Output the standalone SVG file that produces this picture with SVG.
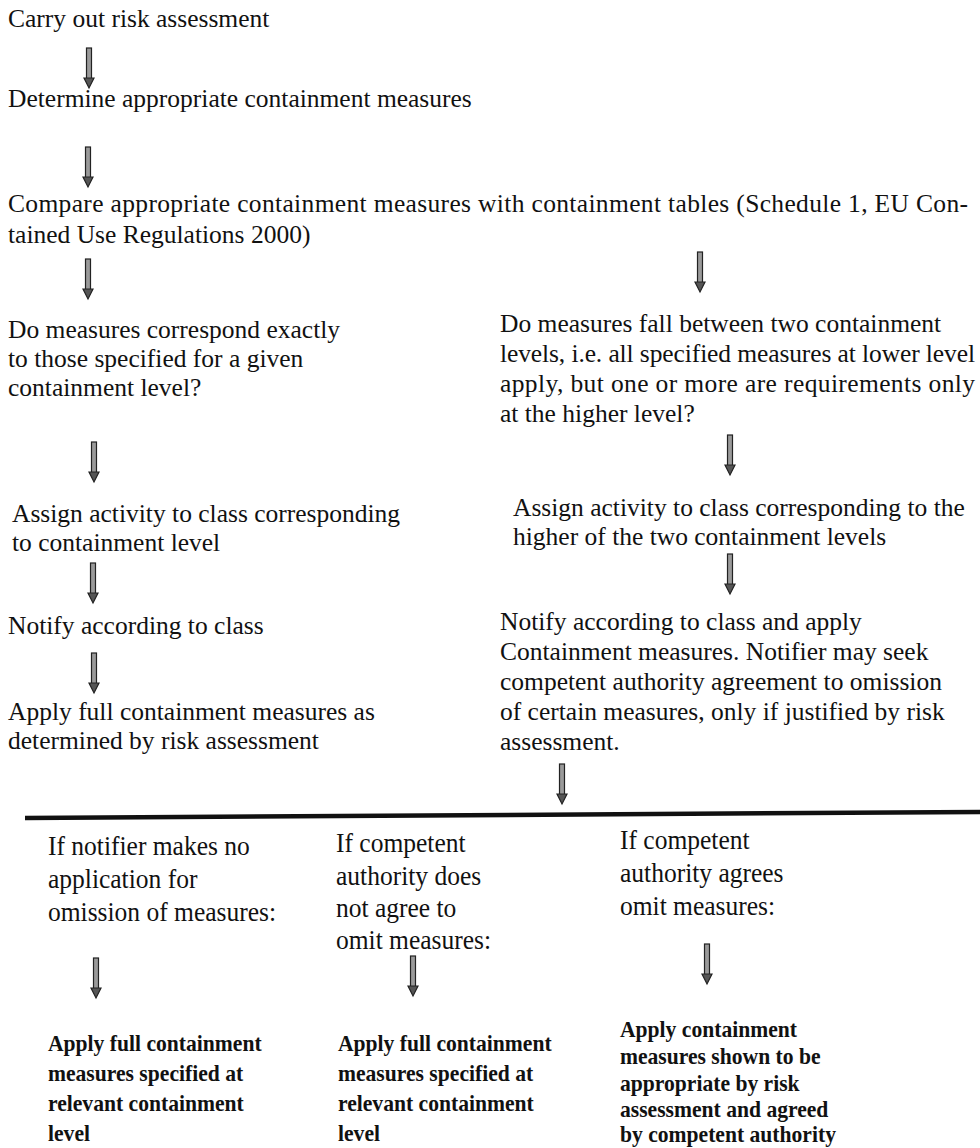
<svg xmlns="http://www.w3.org/2000/svg" xmlns:xlink="http://www.w3.org/1999/xlink" width="980" height="1148" viewBox="0 0 980 1148">
<style>
  text { font-family: "Liberation Serif", "Times New Roman", serif; fill: #111; }
  .t { font-family: "Liberation Serif", "Times New Roman", serif; font-size: 25.5px; }
  .b { font-family: "Liberation Serif", "Times New Roman", serif; font-size: 27px; }
  .bold { font-family: "Liberation Serif", "Times New Roman", serif; font-size: 24px; font-weight: bold; }
  .shaft { fill: #9a9a9a; stroke: #222; stroke-width: 1.2; }
  .head { fill: #555; stroke: #222; stroke-width: 1.2; }
</style>
<defs>
  <g id="arr">
    <rect class="shaft" x="-2.5" y="0" width="5" height="31"/>
    <path class="head" d="M -5 30 L 5 30 L 0 40 Z"/>
  </g>
</defs>
<rect width="980" height="1148" fill="#fff"/>

<g id="n1"><text class="t" x="8" y="27">Carry out risk assessment</text></g>
<g id="n2"><text class="t" x="8" y="107">Determine appropriate containment measures</text></g>
<g id="n3">
  <text class="t" x="8" y="212" textLength="960" lengthAdjust="spacing">Compare appropriate containment measures with containment tables (Schedule 1, EU Con-</text>
  <text class="t" x="8" y="243">tained Use Regulations 2000)</text>
</g>
<g id="n4">
  <text class="t" x="8" y="338">Do measures correspond exactly</text>
  <text class="t" x="8" y="367">to those specified for a given</text>
  <text class="t" x="8" y="396">containment level?</text>
</g>
<g id="n5">
  <text class="t" x="500" y="332">Do measures fall between two containment</text>
  <text class="t" x="500" y="362" textLength="475" lengthAdjust="spacing">levels, i.e. all specified measures at lower level</text>
  <text class="t" x="500" y="392" textLength="475" lengthAdjust="spacing">apply, but one or more are requirements only</text>
  <text class="t" x="500" y="422">at the higher level?</text>
</g>
<g id="n6">
  <text class="t" x="12" y="522">Assign activity to class corresponding</text>
  <text class="t" x="12" y="551">to containment level</text>
</g>
<g id="n7">
  <text class="t" x="513" y="516">Assign activity to class corresponding to the</text>
  <text class="t" x="513" y="545">higher of the two containment levels</text>
</g>
<g id="n8"><text class="t" x="8" y="634">Notify according to class</text></g>
<g id="n9">
  <text class="t" x="500" y="630">Notify according to class and apply</text>
  <text class="t" x="500" y="660">Containment measures. Notifier may seek</text>
  <text class="t" x="500" y="690">competent authority agreement to omission</text>
  <text class="t" x="500" y="720">of certain measures, only if justified by risk</text>
  <text class="t" x="500" y="750">assessment.</text>
</g>
<g id="n10">
  <text class="t" x="8" y="720">Apply full containment measures as</text>
  <text class="t" x="8" y="749">determined by risk assessment</text>
</g>
<g id="n11" transform="translate(48,0) scale(0.945,1)">
  <text class="b" x="0" y="855">If notifier makes no</text>
  <text class="b" x="0" y="888">application for</text>
  <text class="b" x="0" y="921">omission of measures:</text>
</g>
<g id="n12" transform="translate(336,0) scale(0.945,1)">
  <text class="b" x="0" y="852">If competent</text>
  <text class="b" x="0" y="885">authority does</text>
  <text class="b" x="0" y="917">not agree to</text>
  <text class="b" x="0" y="949">omit measures:</text>
</g>
<g id="n13" transform="translate(620,0) scale(0.945,1)">
  <text class="b" x="0" y="849">If competent</text>
  <text class="b" x="0" y="882">authority agrees</text>
  <text class="b" x="0" y="915">omit measures:</text>
</g>
<g id="n14" transform="translate(48,0) scale(0.9,1)">
  <text class="bold" x="0" y="1051">Apply full containment</text>
  <text class="bold" x="0" y="1081">measures specified at</text>
  <text class="bold" x="0" y="1111">relevant containment</text>
  <text class="bold" x="0" y="1141">level</text>
</g>
<g id="n15" transform="translate(338,0) scale(0.9,1)">
  <text class="bold" x="0" y="1051">Apply full containment</text>
  <text class="bold" x="0" y="1081">measures specified at</text>
  <text class="bold" x="0" y="1111">relevant containment</text>
  <text class="bold" x="0" y="1141">level</text>
</g>
<g id="n16" transform="translate(620,0) scale(0.9,1)">
  <text class="bold" x="0" y="1037">Apply containment</text>
  <text class="bold" x="0" y="1064">measures shown to be</text>
  <text class="bold" x="0" y="1091">appropriate by risk</text>
  <text class="bold" x="0" y="1117">assessment and agreed</text>
  <text class="bold" x="0" y="1142">by competent authority</text>
</g>

<g id="connectors">
  <use xlink:href="#arr" transform="translate(89,48)"/>
  <use xlink:href="#arr" transform="translate(88,147)"/>
  <use xlink:href="#arr" transform="translate(88,259)"/>
  <use xlink:href="#arr" transform="translate(700,252)"/>
  <use xlink:href="#arr" transform="translate(94,442)"/>
  <use xlink:href="#arr" transform="translate(730,435)"/>
  <use xlink:href="#arr" transform="translate(93,563)"/>
  <use xlink:href="#arr" transform="translate(730,554)"/>
  <use xlink:href="#arr" transform="translate(94,653)"/>
  <use xlink:href="#arr" transform="translate(562,764)"/>
  <path d="M 25 818 L 980 812" stroke="#111" stroke-width="4.5" fill="none"/>
  <use xlink:href="#arr" transform="translate(96,958)"/>
  <use xlink:href="#arr" transform="translate(413,956)"/>
  <use xlink:href="#arr" transform="translate(707,944)"/>
</g>
</svg>
